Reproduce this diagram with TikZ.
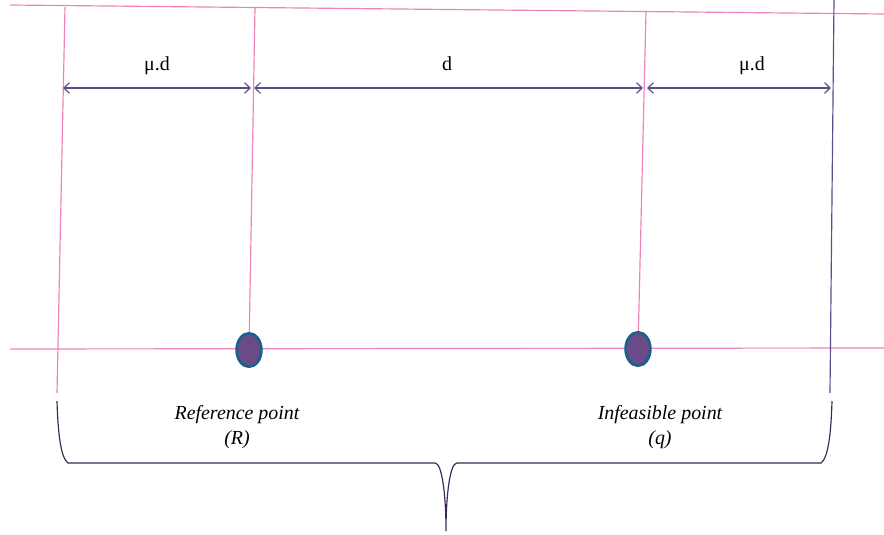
\documentclass[tikz,border=0pt]{standalone}
\usepackage{fontspec}
\setmainfont{Liberation Serif}
\usetikzlibrary{arrows.meta,shapes.geometric}

\definecolor{gridpink}{RGB}{238,130,185}
\definecolor{dimpurple}{RGB}{95,75,135}
\definecolor{bracepurple}{RGB}{60,40,85}
\definecolor{dotfill}{RGB}{105,75,135}
\definecolor{dotrim}{RGB}{30,95,140}

\begin{document}
\begin{tikzpicture}[x=0.03cm, y=-0.03cm,
    font=\fontsize{17}{21}\selectfont,
    guide/.style={draw=gridpink, line width=1pt},
    edge/.style={draw=dimpurple, line width=1pt},
    dim/.style={{Straight Barb[length=1.7mm,width=3.2mm]}-{Straight Barb[length=1.7mm,width=3.2mm]},
      draw=dimpurple, line width=1pt},
    brace/.style={draw=bracepurple, line width=1pt},
    dot/.style={ellipse, draw=dotrim, line width=2.4pt, fill=dotfill,
      minimum width=0.74cm, minimum height=1.0cm, inner sep=0pt},
    pointlabel/.style={align=center, font=\fontsize{17}{22}\selectfont\itshape}
  ]
    \useasboundingbox (0,0) rectangle (884,535);

    % grid of guides
    \coordinate (topl) at (10,5);
    \coordinate (topr) at (884,14);
    \coordinate (botl) at (10,349);
    \coordinate (botr) at (884,348);
    \coordinate (lefttop) at (65,7);
    \coordinate (leftbot) at (57,393);
    \coordinate (rtop) at (255,8);
    \coordinate (qtop) at (646,11);
    \coordinate (righttop) at (834,0);
    \coordinate (rightbot) at (830,393);

    \draw[guide] (topl) -- (topr);
    \draw[guide] (botl) -- (botr);
    \draw[guide] (lefttop) -- (leftbot);
    \draw[edge] (righttop) -- (rightbot);

    \node[dot] (R) at (249,350) {};
    \node[dot] (q) at (638,349) {};
    \draw[guide] (rtop) -- (R);
    \draw[guide] (qtop) -- (q);

    % distances
    \coordinate (d1) at (63,88);
    \coordinate (d2) at (251,88);
    \coordinate (d3) at (254,88);
    \coordinate (d4) at (643,88);
    \coordinate (d5) at (647,88);
    \coordinate (d6) at (831,88);
    \draw[dim] (d1) -- (d2);
    \draw[dim] (d3) -- (d4);
    \draw[dim] (d5) -- (d6);
    \node (mul) at (157,66) {μ.d};
    \node (dmid) at (447,64) {d};
    \node (mur) at (752,66) {μ.d};

    \node[pointlabel] (rlabel) at (237,427) {Reference point\\(R)};
    \node[pointlabel] (qlabel) at (660,427) {Infeasible point\\(q)};

    % brace
    \coordinate (bl) at (57,401);
    \coordinate (br) at (832,401);
    \coordinate (tip) at (446,531);
    \draw[brace] (bl) .. controls (58,435) and (61,458) .. (68,463) -- (435,463)
      .. controls (442,463) and (446,495) .. (tip)
      .. controls (446,495) and (450,463) .. (457,463) -- (821,463)
      .. controls (828,458) and (831,435) .. (br);
\end{tikzpicture}
\end{document}
